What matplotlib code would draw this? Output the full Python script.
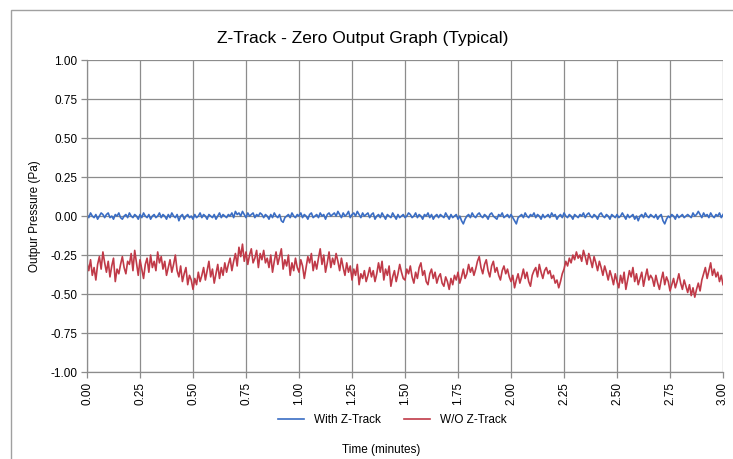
import numpy as np
import matplotlib
matplotlib.use("Agg")
import matplotlib.pyplot as plt
from matplotlib.patches import Rectangle

plt.rcParams["font.family"] = ["Liberation Sans", "DejaVu Sans"]

# two readings per second over 3 minutes
with_ztrack = [
    0.01, -0.01, 0.02, 0.00, -0.01, 0.01, -0.02, 0.00, 0.02, 0.01, -0.01, 0.01, 0.02, -0.01, 0.00, -0.02, 0.01, 0.00, 0.02, -0.01,
    -0.02, 0.00, 0.01, -0.01, 0.02, 0.00, -0.01, 0.01, 0.00, -0.02, 0.01, -0.01, 0.02, 0.00, -0.01, 0.01, -0.02, 0.00, 0.01, -0.01,
    0.00, 0.02, -0.01, 0.01, 0.00, -0.02, 0.01, -0.01, 0.02, 0.00, -0.01, 0.01, -0.03, 0.00, 0.01, -0.02, 0.00, 0.01, -0.01, 0.00,
    -0.02, 0.01, -0.01, 0.00, 0.02, -0.01, 0.01, 0.00, -0.02, 0.01, 0.00, -0.01, 0.01, -0.02, 0.00, 0.02, -0.01, 0.01, 0.00, -0.01,
    0.01, 0.00, 0.02, -0.01, 0.03, 0.01, 0.02, 0.00, 0.03, 0.01, -0.01, 0.02, 0.00, 0.01, 0.02, -0.01, 0.01, 0.00, 0.02, 0.01,
    -0.01, 0.01, 0.00, -0.02, 0.01, -0.01, 0.02, 0.00, -0.01, 0.01, -0.03, -0.04, -0.01, 0.00, 0.01, -0.01, 0.02, 0.00, -0.01, 0.01,
    0.00, 0.02, -0.01, 0.01, 0.00, -0.02, 0.01, 0.02, -0.01, 0.00, 0.01, -0.01, 0.02, 0.00, 0.01, -0.02, 0.01, 0.02, 0.00, 0.01,
    0.02, 0.00, 0.03, 0.01, -0.01, 0.02, 0.00, 0.01, 0.03, -0.01, 0.01, 0.02, 0.00, 0.03, 0.01, -0.01, 0.02, 0.00, 0.01, 0.02,
    -0.01, 0.01, 0.02, -0.02, 0.00, 0.01, -0.01, 0.02, 0.00, -0.02, 0.01, 0.00, -0.01, 0.02, 0.00, -0.02, 0.01, -0.01, 0.00, 0.01,
    -0.01, 0.00, 0.02, 0.01, -0.01, 0.00, 0.02, -0.01, 0.01, 0.00, -0.02, 0.01, 0.00, 0.02, -0.01, 0.01, -0.02, 0.00, 0.01, -0.01,
    0.01, 0.00, -0.01, 0.02, 0.00, -0.02, 0.01, -0.01, 0.00, 0.01, -0.02, 0.00, -0.03, -0.05, -0.02, 0.00, 0.01, -0.01, 0.02, 0.00,
    -0.01, 0.01, 0.02, 0.00, -0.01, 0.01, 0.00, -0.02, 0.01, 0.02, 0.00, -0.01, -0.02, 0.01, 0.00, 0.02, -0.01, 0.00, 0.01, -0.01,
    0.01, -0.01, -0.03, -0.05, -0.01, 0.00, 0.01, -0.01, 0.02, 0.00, -0.01, 0.01, 0.00, 0.02, -0.01, 0.01, 0.00, -0.02, 0.01, -0.01,
    0.00, 0.01, -0.01, 0.02, 0.00, 0.01, -0.02, 0.00, 0.01, -0.01, 0.02, 0.00, -0.01, 0.01, 0.00, -0.02, 0.01, 0.00, -0.01, 0.01,
    0.00, 0.02, -0.01, 0.01, 0.02, 0.00, -0.01, 0.01, 0.00, -0.02, 0.01, 0.02, 0.00, -0.01, 0.01, 0.00, -0.02, 0.01, 0.00, -0.01,
    0.01, -0.01, 0.00, 0.02, 0.00, -0.02, 0.01, -0.01, 0.00, 0.01, -0.02, 0.00, -0.03, 0.00, 0.01, -0.01, 0.02, 0.00, -0.01, 0.01,
    0.00, -0.01, 0.01, -0.02, 0.00, 0.01, -0.03, -0.05, -0.02, 0.00, -0.01, 0.01, 0.00, -0.02, 0.01, -0.01, 0.00, 0.01, -0.01, 0.00,
    0.01, 0.00, -0.01, 0.02, 0.00, 0.01, 0.03, 0.01, -0.01, 0.02, 0.00, 0.01, -0.01, 0.02, 0.00, -0.01, 0.01, 0.00, 0.02, -0.01,
    0.01,
]

without_ztrack = [
    -0.30, -0.35, -0.28, -0.38, -0.33, -0.41, -0.31, -0.26, -0.34, -0.23, -0.30, -0.36, -0.29, -0.39, -0.32, -0.27, -0.42, -0.34, -0.37, -0.31,
    -0.26, -0.33, -0.37, -0.29, -0.31, -0.24, -0.35, -0.22, -0.30, -0.38, -0.28, -0.34, -0.40, -0.31, -0.27, -0.36, -0.25, -0.33, -0.29, -0.35,
    -0.23, -0.30, -0.26, -0.34, -0.29, -0.38, -0.33, -0.28, -0.36, -0.31, -0.25, -0.35, -0.39, -0.32, -0.42, -0.37, -0.33, -0.44, -0.38, -0.41,
    -0.47, -0.40, -0.44, -0.36, -0.42, -0.38, -0.33, -0.41, -0.35, -0.29, -0.39, -0.34, -0.43, -0.37, -0.31, -0.40, -0.33, -0.38, -0.30, -0.36,
    -0.31, -0.27, -0.35, -0.29, -0.24, -0.32, -0.20, -0.26, -0.18, -0.29, -0.23, -0.31, -0.25, -0.21, -0.30, -0.27, -0.22, -0.33, -0.24, -0.28,
    -0.22, -0.30, -0.27, -0.33, -0.25, -0.36, -0.29, -0.23, -0.31, -0.26, -0.21, -0.34, -0.28, -0.32, -0.25, -0.38, -0.30, -0.35, -0.27, -0.33,
    -0.36, -0.28, -0.32, -0.40, -0.33, -0.26, -0.30, -0.24, -0.35, -0.29, -0.34, -0.27, -0.21, -0.31, -0.25, -0.36, -0.30, -0.23, -0.33, -0.27,
    -0.31, -0.24, -0.29, -0.35, -0.27, -0.33, -0.38, -0.30, -0.36, -0.32, -0.41, -0.34, -0.38, -0.31, -0.44, -0.37, -0.40, -0.35, -0.42, -0.38,
    -0.33, -0.39, -0.35, -0.42, -0.37, -0.30, -0.36, -0.29, -0.41, -0.34, -0.38, -0.32, -0.45, -0.39, -0.35, -0.42, -0.37, -0.31, -0.36, -0.40,
    -0.41, -0.34, -0.37, -0.32, -0.39, -0.43, -0.36, -0.40, -0.33, -0.30, -0.38, -0.35, -0.42, -0.44, -0.37, -0.34, -0.40, -0.36, -0.43, -0.39,
    -0.37, -0.43, -0.45, -0.39, -0.42, -0.47, -0.40, -0.44, -0.38, -0.41, -0.36, -0.43, -0.39, -0.34, -0.40, -0.37, -0.31, -0.36, -0.33, -0.38,
    -0.34, -0.29, -0.26, -0.33, -0.37, -0.31, -0.28, -0.35, -0.39, -0.32, -0.29, -0.36, -0.33, -0.38, -0.41, -0.35, -0.32, -0.37, -0.34, -0.39,
    -0.42, -0.38, -0.46, -0.41, -0.37, -0.43, -0.39, -0.34, -0.40, -0.36, -0.42, -0.45, -0.38, -0.35, -0.33, -0.39, -0.31, -0.36, -0.40, -0.35,
    -0.33, -0.37, -0.35, -0.40, -0.38, -0.43, -0.41, -0.46, -0.42, -0.37, -0.34, -0.29, -0.32, -0.27, -0.30, -0.25, -0.28, -0.23, -0.27, -0.25,
    -0.29, -0.22, -0.26, -0.31, -0.24, -0.28, -0.33, -0.26, -0.30, -0.35, -0.29, -0.33, -0.38, -0.32, -0.36, -0.41, -0.35, -0.39, -0.44, -0.37,
    -0.42, -0.46, -0.38, -0.43, -0.36, -0.47, -0.41, -0.35, -0.39, -0.33, -0.42, -0.37, -0.44, -0.40, -0.36, -0.45, -0.39, -0.34, -0.41, -0.38,
    -0.40, -0.45, -0.38, -0.43, -0.47, -0.41, -0.36, -0.44, -0.39, -0.42, -0.48, -0.44, -0.40, -0.46, -0.42, -0.37, -0.43, -0.47, -0.41, -0.45,
    -0.49, -0.44, -0.51, -0.46, -0.52, -0.47, -0.43, -0.48, -0.41, -0.37, -0.33, -0.40, -0.35, -0.30, -0.38, -0.34, -0.39, -0.36, -0.42, -0.38,
    -0.44,
]

time_min = np.arange(len(with_ztrack)) / 120.0

x_ticks = np.arange(0, 3.01, 0.25)
y_ticks = np.arange(-1.0, 1.01, 0.25)

fig = plt.figure(figsize=(7.33, 4.59), dpi=100)
ax = fig.add_axes([0.1187, 0.1895, 0.8677, 0.6795])

ax.plot(time_min, with_ztrack, color="#3A6DC4", lw=1.2, label="With Z-Track")
ax.plot(time_min, without_ztrack, color="#C03A48", lw=1.2, label="W/O Z-Track")

ax.set_xlim(0, 3)
ax.set_ylim(-1, 1)
ax.set_xticks(x_ticks)
ax.set_yticks(y_ticks)
ax.set_xticklabels([f"{v:.2f}" for v in x_ticks], rotation=90, fontsize=8.5)
ax.set_yticklabels([f"{v:.2f}" for v in y_ticks], fontsize=8.5)
ax.grid(True, color="#8c8c8c", lw=0.9)
ax.set_axisbelow(True)
ax.tick_params(length=4, width=0.9, color="#8c8c8c", pad=3)
for side in ("top", "right"):
    ax.spines[side].set_visible(False)
for side in ("left", "bottom"):
    ax.spines[side].set_color("#8c8c8c")
    ax.spines[side].set_linewidth(0.9)

fig.text(0.495, 0.917, "Z-Track - Zero Output Graph (Typical)", ha="center",
         va="center", fontsize=12.5)
fig.text(0.048, 0.53, "Outpur Pressure (Pa)", rotation=90, ha="center",
         va="center", fontsize=8.5)
fig.text(0.52, 0.02, "Time (minutes)", ha="center", va="center", fontsize=8.5)
fig.legend(loc="center", bbox_to_anchor=(0.535, 0.085), ncol=2,
           frameon=False, fontsize=8.5, handlelength=2.2, columnspacing=2.0)

# chart area border
fig.add_artist(Rectangle((0.015, -0.1), 1.2, 1.078, transform=fig.transFigure,
                         fill=False, ec="#a0a0a0", lw=1.0))

fig.savefig("out.png", dpi=100)
